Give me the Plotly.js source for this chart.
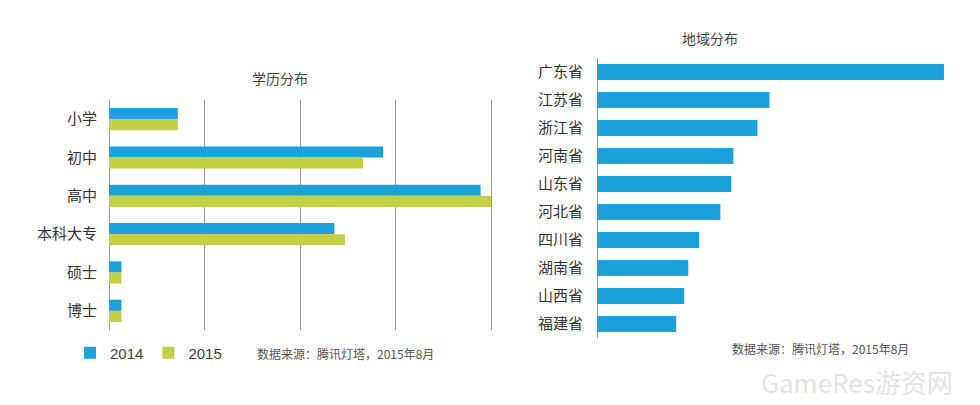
<!DOCTYPE html>
<html><head><meta charset="utf-8">
<script src="https://cdn.plot.ly/plotly-3.0.1.min.js"></script>
<style>body{margin:0;background:#fff}#chart{width:980px;height:405px}</style>
</head><body><div id="chart"></div>
<script>
// 学历分布
var eduCats = ['小学', '初中', '高中', '本科大专', '硕士', '博士'];
var edu2014 = [0.72, 2.87, 3.89, 2.36, 0.13, 0.13];
var edu2015 = [0.72, 2.66, 4.0, 2.47, 0.13, 0.13];
// 地域分布
var regionCats = ['广东省', '江苏省', '浙江省', '河南省', '山东省', '河北省', '四川省', '湖南省', '山西省', '福建省'];
var regionVals = [346, 172, 160, 136, 134, 123, 102, 91, 87, 79];

var blue = '#1ba1db', green = '#c3cf45';
var font = {family: 'Noto Sans CJK SC, sans-serif', color: '#444', size: 14};

var data = [
  {y: eduCats, x: edu2014, name: '2014', type: 'bar', orientation: 'h',
   marker: {color: blue}, xaxis: 'x', yaxis: 'y'},
  {y: eduCats, x: edu2015, name: '2015', type: 'bar', orientation: 'h',
   marker: {color: green}, xaxis: 'x', yaxis: 'y'},
  {y: regionCats, x: regionVals, type: 'bar', orientation: 'h', showlegend: false,
   marker: {color: blue}, xaxis: 'x2', yaxis: 'y2'}
];

var layout = {
  width: 980, height: 405,
  margin: {l: 0, r: 0, t: 0, b: 0},
  paper_bgcolor: '#fff', plot_bgcolor: '#fff',
  font: font,
  barmode: 'group',
  bargap: 0.42, bargroupgap: 0,
  xaxis: {domain: [109/980, 493/980], range: [0, 4.02], dtick: 1, showticklabels: false,
          showgrid: true, gridcolor: '#999', gridwidth: 1, zeroline: true, zerolinecolor: '#999',
          showline: false, fixedrange: true},
  yaxis: {domain: [1 - 330/405, 1 - 100/405], autorange: 'reversed', showgrid: false,
          ticks: 'outside', ticklen: 8, tickcolor: 'rgba(0,0,0,0)',
          tickfont: {size: 15, color: '#333'}, zeroline: false},
  xaxis2: {domain: [597/980, 950/980], range: [0, 352], showticklabels: false,
           showgrid: false, zeroline: true, zerolinecolor: '#999', anchor: 'y2'},
  yaxis2: {domain: [1 - 338/405, 1 - 58/405], autorange: 'reversed', anchor: 'x2',
           ticks: 'outside', ticklen: 10, tickcolor: 'rgba(0,0,0,0)',
           showgrid: false, tickfont: {size: 15, color: '#333'}, zeroline: false},
  showlegend: true,
  legend: {orientation: 'h', x: 70/980, y: 1 - 353/405, yanchor: 'middle', xanchor: 'left',
           font: {size: 15, color: '#444', family: 'Liberation Sans, sans-serif'},
           itemwidth: 30, tracegroupgap: 0},
  annotations: [
    {text: '学历分布', x: 250/980, y: 1 - 78/405, xref: 'paper', yref: 'paper', showarrow: false,
     yanchor: 'middle', font: {size: 14, color: '#444'}},
    {text: '地域分布', x: 740/980, y: 1 - 38/405, xref: 'paper', yref: 'paper', showarrow: false,
     yanchor: 'middle', font: {size: 14, color: '#444'}},
    {text: '数据来源：腾讯灯塔，2015年8月', x: 255/980, y: 1 - 353/405, xref: 'paper', yref: 'paper',
     xanchor: 'left', yanchor: 'middle', showarrow: false, font: {size: 12, color: '#555'}},
    {text: '数据来源：腾讯灯塔，2015年8月', x: 730/980, y: 1 - 348/405, xref: 'paper', yref: 'paper',
     xanchor: 'left', yanchor: 'middle', showarrow: false, font: {size: 12, color: '#555'}},
    {text: 'GameRes游资网', x: 955/980, y: 1 - 381/405, xref: 'paper', yref: 'paper',
     xanchor: 'right', yanchor: 'middle', showarrow: false, font: {size: 26, color: 'rgba(200,200,200,0.5)'}}
  ]
};

Plotly.newPlot('chart', data, layout, {staticPlot: true});
</script></body></html>
